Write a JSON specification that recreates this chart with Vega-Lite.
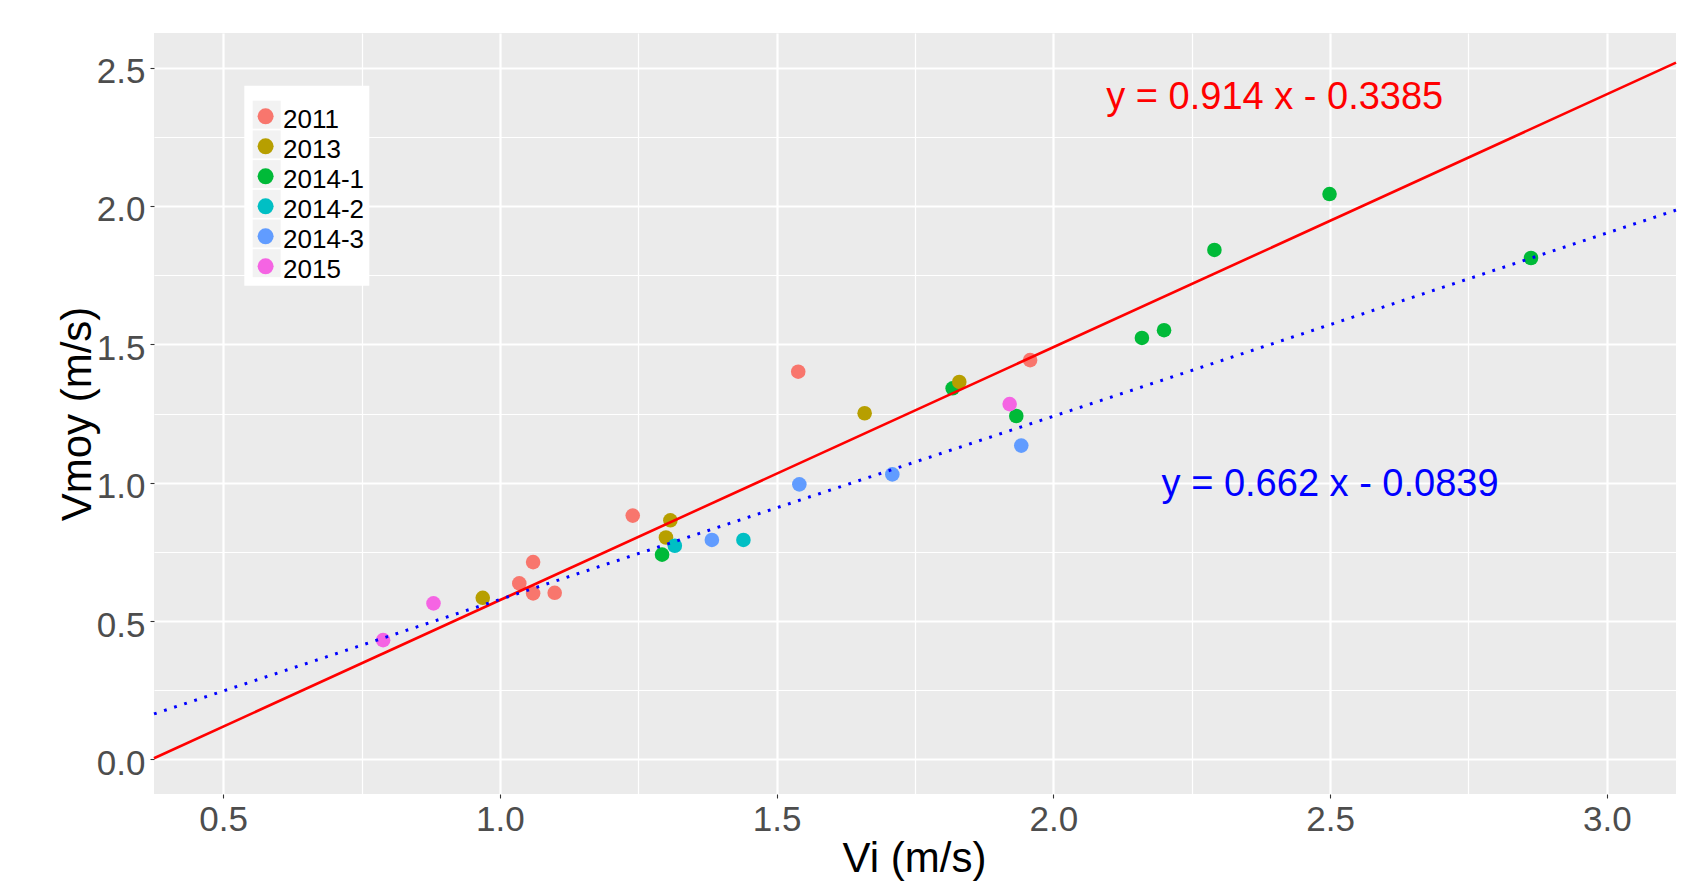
{
  "$schema": "https://vega.github.io/schema/vega-lite/v6.json",
  "width": 1522,
  "height": 761,
  "autosize": {"type": "none"},
  "padding": {"left": 154, "top": 33, "right": 22, "bottom": 97},
  "background": "white",
  "config": {
    "view": {"fill": "#EBEBEB", "stroke": null},
    "font": "Liberation Sans"
  },
  "datasets": {
    "points": [
      {"group": "2011", "vi": 1.035, "vmoy": 0.636},
      {"group": "2011", "vi": 1.060, "vmoy": 0.713},
      {"group": "2011", "vi": 1.060, "vmoy": 0.600},
      {"group": "2011", "vi": 1.099, "vmoy": 0.602},
      {"group": "2011", "vi": 1.240, "vmoy": 0.881},
      {"group": "2011", "vi": 1.539, "vmoy": 1.401},
      {"group": "2011", "vi": 1.958, "vmoy": 1.443},
      {"group": "2014-1", "vi": 1.293, "vmoy": 0.740},
      {"group": "2014-1", "vi": 1.818, "vmoy": 1.341},
      {"group": "2014-1", "vi": 1.933, "vmoy": 1.241},
      {"group": "2014-1", "vi": 2.160, "vmoy": 1.523},
      {"group": "2014-1", "vi": 2.200, "vmoy": 1.551},
      {"group": "2014-1", "vi": 2.291, "vmoy": 1.841},
      {"group": "2014-1", "vi": 2.499, "vmoy": 2.043},
      {"group": "2014-1", "vi": 2.863, "vmoy": 1.812},
      {"group": "2013", "vi": 0.969, "vmoy": 0.584},
      {"group": "2013", "vi": 1.308, "vmoy": 0.864},
      {"group": "2013", "vi": 1.300, "vmoy": 0.802},
      {"group": "2013", "vi": 1.659, "vmoy": 1.251},
      {"group": "2013", "vi": 1.830, "vmoy": 1.364},
      {"group": "2014-2", "vi": 1.316, "vmoy": 0.772},
      {"group": "2014-2", "vi": 1.440, "vmoy": 0.793},
      {"group": "2014-3", "vi": 1.383, "vmoy": 0.793},
      {"group": "2014-3", "vi": 1.541, "vmoy": 0.994},
      {"group": "2014-3", "vi": 1.709, "vmoy": 1.030},
      {"group": "2014-3", "vi": 1.942, "vmoy": 1.134},
      {"group": "2015", "vi": 0.789, "vmoy": 0.431},
      {"group": "2015", "vi": 0.880, "vmoy": 0.564},
      {"group": "2015", "vi": 1.921, "vmoy": 1.284}
    ],
    "fits": [
      {"fit": "fit1", "vi": 0.375, "vmoy": 0.00425},
      {"fit": "fit1", "vi": 3.125, "vmoy": 2.51775},
      {"fit": "fit2", "vi": 0.375, "vmoy": 0.16435},
      {"fit": "fit2", "vi": 3.125, "vmoy": 1.98485}
    ],
    "equations": [
      {"fit": "fit1", "vi": 2.4, "vmoy": 2.4, "label": "y = 0.914 x - 0.3385"},
      {"fit": "fit2", "vi": 2.5, "vmoy": 1.0, "label": "y = 0.662 x - 0.0839"}
    ]
  },
  "encoding": {
    "x": {
      "field": "vi",
      "type": "quantitative",
      "title": "Vi (m/s)",
      "scale": {"domain": [0.375, 3.125], "nice": false, "zero": false},
      "axis": {
        "values": [0.5, 0.75, 1, 1.25, 1.5, 1.75, 2, 2.25, 2.5, 2.75, 3],
        "format": ".1f",
        "labelExpr": "datum.value % 0.5 === 0 ? datum.label : ''",
        "domain": false,
        "grid": true,
        "gridColor": "white",
        "gridWidth": {"condition": {"test": "datum.value % 0.5 !== 0", "value": 1.2}, "value": 2.2},
        "ticks": true,
        "tickColor": "#333333",
        "tickWidth": 1.1,
        "tickSize": 4,
        "tickOpacity": {"condition": {"test": "datum.value % 0.5 !== 0", "value": 0}, "value": 1},
        "labelFont": "Liberation Sans",
        "labelFontSize": 35,
        "labelColor": "#4D4D4D",
        "labelPadding": 4.4,
        "labelFlush": false,
        "labelOverlap": false,
        "titleFont": "Liberation Sans",
        "titleFontSize": 42,
        "titleFontWeight": "normal",
        "titleColor": "black",
        "titleBaseline": "alphabetic",
        "titleAlign": "center",
        "titleX": 760,
        "titleY": 77
      }
    },
    "y": {
      "field": "vmoy",
      "type": "quantitative",
      "title": "Vmoy (m/s)",
      "scale": {"domain": [-0.125, 2.625], "nice": false, "zero": false},
      "axis": {
        "values": [0, 0.25, 0.5, 0.75, 1, 1.25, 1.5, 1.75, 2, 2.25, 2.5],
        "format": ".1f",
        "labelExpr": "datum.value % 0.5 === 0 ? datum.label : ''",
        "domain": false,
        "grid": true,
        "gridColor": "white",
        "gridWidth": {"condition": {"test": "datum.value % 0.5 !== 0", "value": 1.2}, "value": 2.2},
        "ticks": true,
        "tickColor": "#333333",
        "tickWidth": 1.1,
        "tickSize": 4,
        "tickOpacity": {"condition": {"test": "datum.value % 0.5 !== 0", "value": 0}, "value": 1},
        "labelFont": "Liberation Sans",
        "labelFontSize": 35,
        "labelColor": "#4D4D4D",
        "labelPadding": 5,
        "labelOffset": 4,
        "labelFlush": false,
        "labelOverlap": false,
        "titleFont": "Liberation Sans",
        "titleFontSize": 42,
        "titleFontWeight": "normal",
        "titleColor": "black",
        "titleAngle": 270,
        "titleBaseline": "bottom",
        "titleAlign": "center",
        "titleX": -55,
        "titleY": 380.5
      }
    }
  },
  "layer": [
    {
      "data": {"name": "points"},
      "mark": {"type": "point", "filled": true, "size": 0, "opacity": 0},
      "encoding": {
        "color": {
          "field": "group",
          "type": "nominal",
          "scale": {"domain": ["2011", "2013", "2014-1", "2014-2", "2014-3", "2015"], "range": ["#F2F2F2", "#F2F2F2", "#F2F2F2", "#F2F2F2", "#F2F2F2", "#F2F2F2"]},
          "legend": {
            "orient": "none",
            "legendX": 90.3,
            "legendY": 52.7,
            "title": " ",
            "titleFontSize": 4,
            "titlePadding": 2.6,
            "padding": 8.4,
            "fillColor": "white",
            "strokeColor": null,
            "symbolType": "square",
            "symbolSize": 784,
            "symbolStrokeWidth": 0,
            "symbolOpacity": 1,
            "labelFontSize": 26,
            "labelFont": "Liberation Sans",
            "labelOffset": 80.2,
            "labelExpr": "''",
            "rowPadding": 1.7,
            "encode": {"symbols": {"update": {"fill": {"value": "#F2F2F2"}, "opacity": {"value": 1}, "size": {"value": 784}, "shape": {"value": "square"}, "strokeWidth": {"value": 0}}}}
          }
        }
      }
    },
    {
      "data": {"name": "points"},
      "mark": {"type": "point", "filled": true, "size": 213, "opacity": 1},
      "encoding": {
        "color": {
          "field": "group",
          "type": "nominal",
          "scale": {"domain": ["2011", "2013", "2014-1", "2014-2", "2014-3", "2015"], "range": ["#F8766D", "#B79F00", "#00BA38", "#00BFC4", "#619CFF", "#F564E3"]},
          "legend": {
            "orient": "none",
            "legendX": 98.6,
            "legendY": 70.3,
            "title": null,
            "padding": 0,
            "fillColor": null,
            "strokeColor": null,
            "symbolType": "circle",
            "symbolSize": 256,
            "symbolStrokeWidth": 0,
            "symbolOpacity": 1,
            "labelFontSize": 26,
            "labelFont": "Liberation Sans",
            "labelColor": "black",
            "labelOffset": 4.5,
            "rowPadding": -0.3,
            "encode": {"labels": {"update": {"dy": {"value": 4}}}}
          }
        }
      }
    },
    {
      "data": {"name": "fits"},
      "transform": [{"filter": "datum.fit === 'fit1'"}],
      "mark": {"type": "line", "color": "#FF0000", "strokeWidth": 2.6},
      "encoding": {}
    },
    {
      "data": {"name": "fits"},
      "transform": [{"filter": "datum.fit === 'fit2'"}],
      "mark": {"type": "line", "color": "#0000FF", "strokeWidth": 3, "strokeDash": [2.8, 7.8], "strokeCap": "butt"},
      "encoding": {}
    },
    {
      "data": {"name": "equations"},
      "mark": {"type": "text", "font": "Liberation Sans", "fontSize": 38, "align": "center", "baseline": "alphabetic", "dy": 13.6},
      "encoding": {
        "text": {"field": "label", "type": "nominal"},
        "color": {
          "field": "fit",
          "type": "nominal",
          "scale": {"domain": ["fit1", "fit2"], "range": ["#FF0000", "#0000FF"]},
          "legend": null
        }
      }
    }
  ],
  "resolve": {"scale": {"color": "independent"}}
}
